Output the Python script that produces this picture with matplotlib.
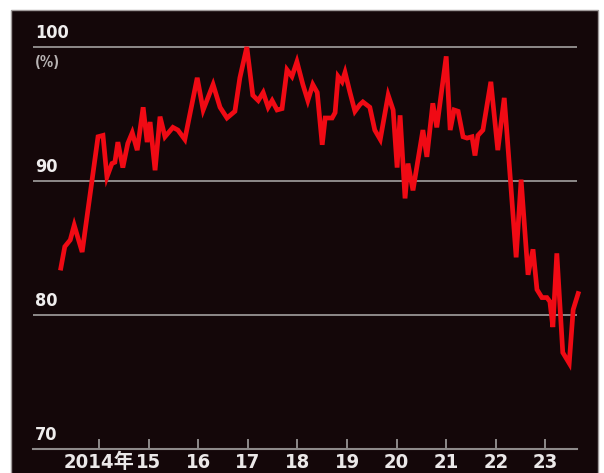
import matplotlib
matplotlib.use('Agg')
import matplotlib.pyplot as plt
import matplotlib.patches as mpatches

# monthly-ish readings (fractional year, %)
years = [2013.23, 2013.31, 2013.42, 2013.50, 2013.66, 2013.98, 2014.08, 2014.16, 2014.26, 2014.32,
         2014.38, 2014.48, 2014.58, 2014.67, 2014.77, 2014.89, 2014.97, 2015.03, 2015.13, 2015.23,
         2015.33, 2015.49, 2015.59, 2015.73, 2015.98, 2016.10, 2016.30, 2016.44, 2016.58, 2016.74,
         2016.84, 2016.98, 2017.10, 2017.21, 2017.31, 2017.41, 2017.49, 2017.59, 2017.69, 2017.79,
         2017.89, 2017.99, 2018.11, 2018.21, 2018.31, 2018.40, 2018.50, 2018.56, 2018.70, 2018.76,
         2018.82, 2018.90, 2018.96, 2019.06, 2019.16, 2019.26, 2019.32, 2019.46, 2019.56, 2019.67,
         2019.83, 2019.93, 2020.01, 2020.07, 2020.17, 2020.23, 2020.33, 2020.53, 2020.61, 2020.73,
         2020.81, 2021.00, 2021.08, 2021.16, 2021.24, 2021.34, 2021.42, 2021.52, 2021.58, 2021.64,
         2021.74, 2021.90, 2022.04, 2022.17, 2022.23, 2022.41, 2022.51, 2022.65, 2022.75, 2022.83,
         2022.93, 2023.03, 2023.09, 2023.15, 2023.23, 2023.35, 2023.48, 2023.56, 2023.66]
values = [83.5, 85.1, 85.6, 86.7, 84.7, 93.3, 93.4, 90.3, 91.3, 91.4,
          92.9, 91.0, 92.8, 93.6, 92.3, 95.5, 92.9, 94.4, 90.8, 94.8,
          93.3, 94.0, 93.8, 93.1, 97.7, 95.3, 97.2, 95.5, 94.7, 95.2,
          97.7, 100.0, 96.4, 96.0, 96.6, 95.5, 96.0, 95.3, 95.4, 98.3,
          97.8, 98.9, 97.2, 96.0, 97.2, 96.6, 92.7, 94.7, 94.7, 95.1,
          97.8, 97.4, 98.1, 96.6, 95.2, 95.7, 95.9, 95.5, 93.8, 93.1,
          96.4, 95.3, 91.0, 94.9, 88.7, 91.3, 89.3, 93.8, 91.8, 95.8,
          94.0, 99.3, 93.8, 95.3, 95.2, 93.3, 93.2, 93.3, 91.9, 93.4,
          93.8, 97.4, 92.3, 96.2, 93.3, 84.3, 90.1, 83.0, 84.9, 81.9,
          81.3, 81.3, 81.0, 79.1, 84.6, 77.2, 76.4, 80.4, 81.6]

tick_years = list(range(2014, 2024))
tick_labels = ['2014年', '15', '16', '17', '18', '19', '20', '21', '22', '23']
grid_levels = [80, 90, 100]
y_labels = [70, 80, 90, 100]

W, H = 604, 473
fig = plt.figure(figsize=(W / 100, H / 100), dpi=100)
fig.patch.set_facecolor('white')

# dark panel behind the chart
panel = mpatches.Rectangle((11 / W, -0.01), (598 - 11) / W, (H - 10) / H + 0.01,
                           transform=fig.transFigure, facecolor='#140709',
                           edgecolor='#a09a9a', linewidth=1.0, zorder=-5)
fig.patches.append(panel)

ax = fig.add_axes([33 / W, 24 / H, (577 - 33) / W, (449 - 40) / H])
ax.set_zorder(2)
ax.set_facecolor('none')
ax.set_xlim(2012.669, 2023.637)
ax.set_ylim(70, 100.52)

grid_c = '#8e8a8a'
for g in grid_levels:
    ax.axhline(g, color=grid_c, linewidth=1.4, zorder=1)

ax.plot(years, values, color='#f00a14', linewidth=3.4, solid_joinstyle='miter',
        zorder=3, clip_on=False)

for s in ['top', 'right', 'left']:
    ax.spines[s].set_visible(False)
ax.spines['bottom'].set_color(grid_c)
ax.spines['bottom'].set_linewidth(1.5)

font = ['DejaVu Sans', 'Noto Sans CJK JP']
ax.set_yticks([])
ax.set_xticks(tick_years)
ax.set_xticklabels(tick_labels, family=font, fontstretch='condensed', fontweight='bold',
                   fontsize=14.5, color='#ebe8e8')
ax.tick_params(axis='x', direction='in', length=7, width=1.4, color=grid_c, pad=3)

for v in y_labels:
    ax.text(0.004, v + 0.35, str(v), transform=ax.get_yaxis_transform(),
            ha='left', va='bottom', family=font, fontstretch='condensed', fontweight='bold',
            fontsize=13, color='#efeded')
ax.text(0.004, 99.4, '(%)', transform=ax.get_yaxis_transform(), ha='left', va='top',
        family=font, fontstretch='condensed', fontweight='bold', fontsize=10.5, color='#b8b4b4')

fig.savefig('out.png', dpi=100, facecolor=fig.get_facecolor())
